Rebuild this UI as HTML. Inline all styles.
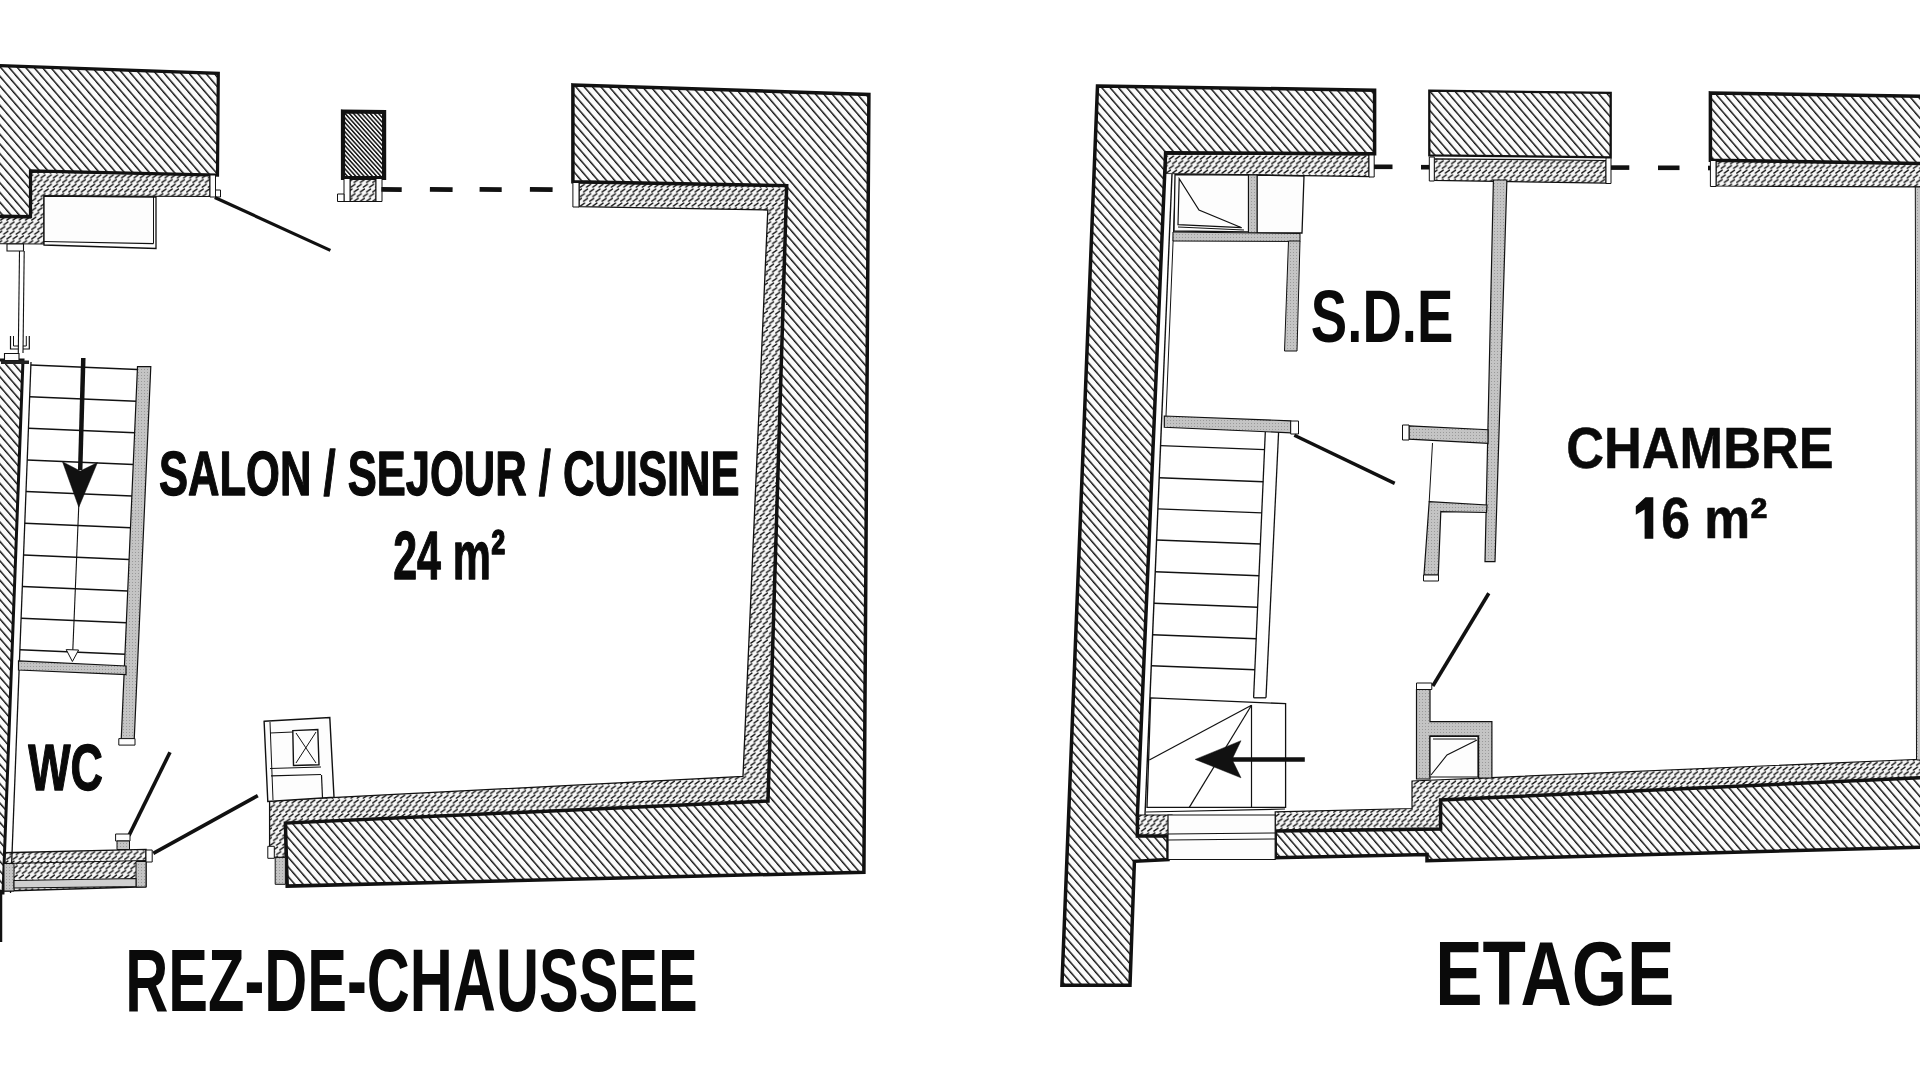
<!DOCTYPE html>
<html><head><meta charset="utf-8"><title>Plan</title>
<style>html,body{margin:0;padding:0;background:#fff;width:1920px;height:1080px;overflow:hidden}svg{display:block}text{font-family:"Liberation Sans",sans-serif;font-weight:bold}</style>
</head><body>
<svg width="1920" height="1080" viewBox="0 0 1920 1080">
<defs>
<pattern id="h" width="6.32" height="2400" y="-1200" patternUnits="userSpaceOnUse" patternTransform="rotate(-40.7)">
<rect x="0" y="0" width="6.32" height="2400" fill="#fbfbfb"/><rect x="0" y="0" width="1.45" height="2400" fill="#111"/></pattern>
<pattern id="h2" width="3.1" height="2400" y="-1200" patternUnits="userSpaceOnUse" patternTransform="rotate(-42)">
<rect x="0" y="0" width="3.1" height="2400" fill="#f4f4f4"/><rect x="0" y="0" width="1.45" height="2400" fill="#111"/></pattern>
<pattern id="p" width="6.2" height="9.4" patternUnits="userSpaceOnUse">
<rect width="6.2" height="9.4" fill="#f7f7f7"/><g stroke="#111" stroke-width="1.35" stroke-linecap="round"><line x1="0.7" y1="3.8" x2="4.8" y2="1.0"/><line x1="3.8" y1="8.5" x2="7.9" y2="5.7"/><line x1="-2.4" y1="8.5" x2="1.7" y2="5.7"/></g></pattern>
<pattern id="g" width="3" height="3" patternUnits="userSpaceOnUse">
<rect width="3" height="3" fill="#c4c4c4"/><rect x="0" y="0" width="1" height="1" fill="#9a9a9a"/></pattern>
</defs>
<rect width="1920" height="1080" fill="#fff"/>
<g font-family="Liberation Sans" font-weight="bold" fill="#0a0a0a">
<polygon points="30.5,172.0 210.0,175.0 210.0,196.5 44.0,195.8 44.0,244.0 -6.0,243.7 -6.0,217.5 30.5,218.0" fill="url(#p)" stroke="#111" stroke-width="1.2" stroke-linejoin="miter" />
<polygon points="350.0,179.0 376.0,179.0 376.0,201.5 350.0,201.5" fill="url(#p)" stroke="#111" stroke-width="1" stroke-linejoin="miter" />
<polygon points="579.0,182.5 786.7,186.0 768.0,801.0 285.4,823.1 285.4,857.4 269.6,857.4 269.6,800.9 743.0,776.4 767.8,210.0 579.0,206.7" fill="url(#p)" stroke="#111" stroke-width="1.3" stroke-linejoin="miter" />
<polygon points="3.0,852.8 146.0,849.4 146.0,886.7 5.0,891.0" fill="url(#p)" stroke="#111" stroke-width="1.4" stroke-linejoin="miter" />
<polygon points="1166.0,154.0 1369.0,155.0 1369.0,176.7 1166.0,173.5" fill="url(#p)" stroke="#111" stroke-width="1.2" stroke-linejoin="miter" />
<polygon points="1434.0,158.8 1606.0,160.5 1606.0,183.2 1434.0,180.3" fill="url(#p)" stroke="#111" stroke-width="1.2" stroke-linejoin="miter" />
<polygon points="1716.0,161.0 1926.0,164.0 1926.0,187.0 1716.0,186.0" fill="url(#p)" stroke="#111" stroke-width="1.2" stroke-linejoin="miter" />
<polygon points="1275.2,811.9 1412.0,808.5 1412.0,781.0 1926.0,759.0 1926.0,777.5 1440.6,799.9 1440.6,829.0 1275.2,831.1" fill="url(#p)" stroke="#111" stroke-width="1.2" stroke-linejoin="miter" />
<polygon points="1137.4,815.0 1172.0,815.0 1172.0,836.0 1137.4,836.0" fill="url(#p)" stroke="#111" stroke-width="1.2" stroke-linejoin="miter" />
<polygon points="-6.0,65.5 218.3,73.3 217.5,175.0 30.5,171.0 30.5,216.7 -6.0,216.0" fill="url(#h)" stroke="#111" stroke-width="3.2" stroke-linejoin="miter" />
<polygon points="210.0,175.0 215.5,175.0 215.5,197.0 210.0,197.0" fill="#fdfdfd" stroke="#111" stroke-width="1" stroke-linejoin="miter" />
<polygon points="215.5,190.0 220.5,190.0 220.5,197.0 215.5,197.0" fill="#fdfdfd" stroke="#111" stroke-width="1" stroke-linejoin="miter" />
<polygon points="44.0,196.0 156.0,197.0 156.0,248.5 44.0,245.0" fill="#fdfdfd" stroke="#111" stroke-width="1.3" stroke-linejoin="miter" />
<line x1="44" y1="241.5" x2="153.5" y2="243.6" stroke="#111" stroke-width="1.2" />
<line x1="153.5" y1="197" x2="153.5" y2="243.6" stroke="#111" stroke-width="1.0" />
<line x1="214.8" y1="197.5" x2="330.4" y2="250.4" stroke="#111" stroke-width="3.2" />
<polygon points="343.0,111.5 384.1,112.0 384.1,178.0 343.0,177.8" fill="url(#h2)" stroke="#111" stroke-width="4.2" stroke-linejoin="miter" />
<polygon points="344.0,178.5 350.0,178.5 350.0,201.5 344.0,201.5" fill="#fdfdfd" stroke="#111" stroke-width="1" stroke-linejoin="miter" />
<polygon points="376.0,178.5 382.0,178.5 382.0,201.5 376.0,201.5" fill="#fdfdfd" stroke="#111" stroke-width="1" stroke-linejoin="miter" />
<polygon points="337.5,194.0 344.0,194.0 344.0,201.5 337.5,201.5" fill="#fdfdfd" stroke="#111" stroke-width="1" stroke-linejoin="miter" />
<line x1="381.4" y1="189.3" x2="401.7" y2="189.6" stroke="#111" stroke-width="4.8" />
<line x1="429.9" y1="189.3" x2="452.6" y2="189.6" stroke="#111" stroke-width="4.8" />
<line x1="479.6" y1="189.3" x2="501.7" y2="189.6" stroke="#111" stroke-width="4.8" />
<line x1="529.9" y1="189.3" x2="552.6" y2="189.6" stroke="#111" stroke-width="4.8" />
<polygon points="572.9,84.9 868.9,94.4 863.9,872.2 287.2,886.1 285.4,823.1 768.0,801.0 786.7,185.6 572.9,181.8" fill="url(#h)" stroke="#111" stroke-width="3.5" stroke-linejoin="miter" />
<polygon points="572.9,182.5 579.0,182.5 579.0,207.0 572.9,207.0" fill="#fdfdfd" stroke="#111" stroke-width="1" stroke-linejoin="miter" />
<polygon points="264.1,721.3 329.8,717.6 334.0,797.2 267.8,801.5" fill="#fdfdfd" stroke="#111" stroke-width="1.4" stroke-linejoin="miter" />
<line x1="270" y1="722" x2="273" y2="800" stroke="#111" stroke-width="1.0" />
<line x1="270" y1="733" x2="292.8" y2="732" stroke="#111" stroke-width="1.0" />
<polygon points="292.8,730.6 317.8,729.5 319.0,764.8 293.5,765.5" fill="#fdfdfd" stroke="#111" stroke-width="1.4" stroke-linejoin="miter" />
<line x1="296" y1="733" x2="316" y2="763" stroke="#111" stroke-width="1.0" />
<line x1="316" y1="732" x2="296" y2="763" stroke="#111" stroke-width="1.0" />
<line x1="270" y1="768.5" x2="321" y2="767" stroke="#111" stroke-width="1.2" />
<line x1="271" y1="775.9" x2="321" y2="774.5" stroke="#111" stroke-width="1.2" />
<line x1="321.5" y1="775" x2="322.5" y2="798" stroke="#111" stroke-width="1.2" />
<polygon points="267.8,846.3 274.3,846.3 274.3,858.3 267.8,858.3" fill="#fdfdfd" stroke="#111" stroke-width="1" stroke-linejoin="miter" />
<polygon points="275.2,857.4 285.4,857.4 285.4,884.3 275.2,884.3" fill="url(#g)" stroke="#111" stroke-width="1" stroke-linejoin="miter" />
<polygon points="-6.0,360.0 23.0,360.0 3.0,893.0 -6.0,893.0" fill="url(#h)" stroke="#111" stroke-width="3" stroke-linejoin="miter" />
<line x1="31" y1="362" x2="10.5" y2="893" stroke="#111" stroke-width="1.3" />
<polygon points="4.5,353.5 19.0,353.5 19.0,360.5 4.5,360.5" fill="#fdfdfd" stroke="#111" stroke-width="1.1" stroke-linejoin="miter" />
<polygon points="7.0,244.0 23.5,244.0 23.5,251.0 7.0,251.0" fill="#fdfdfd" stroke="#111" stroke-width="1.1" stroke-linejoin="miter" />
<line x1="19.5" y1="251" x2="18.3" y2="353" stroke="#111" stroke-width="1.1" />
<line x1="24.2" y1="251" x2="23" y2="353" stroke="#111" stroke-width="1.1" />
<polyline points="10.5,336.0 10.5,349.0 18.3,349.0" fill="none" stroke="#111" stroke-width="1.2"/>
<polyline points="13.5,336.0 13.5,346.0 18.3,346.0" fill="none" stroke="#111" stroke-width="1.0"/>
<polyline points="29.3,336.0 29.3,349.0 23.0,349.0" fill="none" stroke="#111" stroke-width="1.2"/>
<polyline points="26.3,336.0 26.3,346.0 23.0,346.0" fill="none" stroke="#111" stroke-width="1.0"/>
<polygon points="1.0,360.5 29.0,360.5 29.0,364.0 1.0,364.0" fill="#222" stroke="#111" stroke-width="0" stroke-linejoin="miter" />
<line x1="30.884180790960453" y1="365.0" x2="137.58739946380697" y2="369.5" stroke="#111" stroke-width="1.5" />
<line x1="29.662288135593222" y1="396.65" x2="136.20430294906166" y2="401.15" stroke="#111" stroke-width="1.5" />
<line x1="28.440395480225988" y1="428.3" x2="134.82120643431637" y2="432.8" stroke="#111" stroke-width="1.5" />
<line x1="27.218502824858756" y1="459.95" x2="133.43810991957105" y2="464.45" stroke="#111" stroke-width="1.5" />
<line x1="25.996610169491525" y1="491.6" x2="132.05501340482573" y2="496.1" stroke="#111" stroke-width="1.5" />
<line x1="24.774717514124294" y1="523.25" x2="130.67191689008044" y2="527.75" stroke="#111" stroke-width="1.5" />
<line x1="23.552824858757063" y1="554.9" x2="129.28882037533512" y2="559.4" stroke="#111" stroke-width="1.5" />
<line x1="22.330932203389835" y1="586.55" x2="127.90572386058982" y2="591.05" stroke="#111" stroke-width="1.5" />
<line x1="21.109039548022597" y1="618.2" x2="126.5226273458445" y2="622.7" stroke="#111" stroke-width="1.5" />
<line x1="19.88714689265537" y1="649.8499999999999" x2="125.1395308310992" y2="654.3499999999999" stroke="#111" stroke-width="1.5" />
<polygon points="137.5,366.7 150.8,366.7 134.2,740.0 121.2,740.0" fill="url(#g)" stroke="#111" stroke-width="1.2" stroke-linejoin="miter" />
<polygon points="118.8,738.6 135.0,738.6 135.0,745.1 118.8,745.1" fill="#fdfdfd" stroke="#111" stroke-width="1" stroke-linejoin="miter" />
<polygon points="18.5,660.8 126.0,666.0 126.0,674.5 18.5,670.0" fill="url(#g)" stroke="#111" stroke-width="1.2" stroke-linejoin="miter" />
<line x1="83.3" y1="358" x2="80.2" y2="470" stroke="#111" stroke-width="4.5" />
<polygon points="62.5,461.7 80.2,471.0 97.5,462.5 78.8,507.2" fill="#111" stroke="#111" stroke-width="0.5" stroke-linejoin="miter" />
<line x1="78.8" y1="505" x2="72.4" y2="660" stroke="#111" stroke-width="1.1" />
<polygon points="66.2,649.6 78.6,650.0 72.4,661.5" fill="#fdfdfd" stroke="#111" stroke-width="1" stroke-linejoin="miter" />
<line x1="128.9" y1="835.6" x2="170" y2="752.2" stroke="#111" stroke-width="3.6" />
<polygon points="115.6,834.0 130.0,834.0 130.0,841.0 115.6,841.0" fill="#fdfdfd" stroke="#111" stroke-width="1" stroke-linejoin="miter" />
<polygon points="117.0,841.0 129.5,841.0 129.5,849.5 117.0,849.5" fill="url(#g)" stroke="#111" stroke-width="1" stroke-linejoin="miter" />
<line x1="4" y1="863.5" x2="146" y2="860.5" stroke="#111" stroke-width="1.2" />
<polygon points="4.0,863.5 14.0,863.5 14.0,891.0 4.0,891.0" fill="url(#g)" stroke="#111" stroke-width="1" stroke-linejoin="miter" />
<polygon points="136.0,861.5 146.0,861.5 146.0,887.0 136.0,887.0" fill="url(#g)" stroke="#111" stroke-width="1" stroke-linejoin="miter" />
<polygon points="14.0,880.5 136.0,878.5 136.0,886.5 14.0,888.0" fill="#d0d0d0" stroke="#111" stroke-width="1.1" stroke-linejoin="miter" />
<polygon points="146.0,850.0 152.2,850.0 152.2,862.0 146.0,862.0" fill="#fdfdfd" stroke="#111" stroke-width="1" stroke-linejoin="miter" />
<line x1="1" y1="890" x2="1" y2="942" stroke="#111" stroke-width="2.5" />
<line x1="153.3" y1="853.3" x2="257.8" y2="795.6" stroke="#111" stroke-width="3.6" />
<polygon points="1097.5,86.0 1374.6,90.2 1374.6,153.8 1165.6,152.7 1137.4,815.0 1137.4,836.0 1168.0,836.0 1168.0,859.5 1134.4,861.3 1130.0,985.2 1061.9,985.2" fill="url(#h)" stroke="#111" stroke-width="3.5" stroke-linejoin="miter" />
<polygon points="1369.0,155.0 1374.2,155.0 1374.2,177.0 1369.0,177.0" fill="#fdfdfd" stroke="#111" stroke-width="1" stroke-linejoin="miter" />
<line x1="1172" y1="174" x2="1145" y2="815" stroke="#111" stroke-width="1.4" />
<line x1="1175.8" y1="174" x2="1166" y2="416" stroke="#111" stroke-width="1.0" />
<line x1="1374" y1="166.8" x2="1392.5" y2="166.8" stroke="#111" stroke-width="4.6" />
<line x1="1421" y1="167.2" x2="1430" y2="167.2" stroke="#111" stroke-width="4.6" />
<line x1="1611" y1="167.6" x2="1629.3" y2="167.6" stroke="#111" stroke-width="4.6" />
<line x1="1658" y1="167.8" x2="1679.5" y2="167.8" stroke="#111" stroke-width="4.6" />
<line x1="1708" y1="168" x2="1712" y2="168" stroke="#111" stroke-width="4.6" />
<polygon points="1429.3,90.6 1610.7,92.9 1610.7,157.4 1429.3,155.4" fill="url(#h)" stroke="#111" stroke-width="2.3" stroke-linejoin="miter" />
<polygon points="1429.3,157.0 1434.3,157.0 1434.3,181.0 1429.3,181.0" fill="#fdfdfd" stroke="#111" stroke-width="1" stroke-linejoin="miter" />
<polygon points="1606.0,158.0 1611.0,158.0 1611.0,183.5 1606.0,183.5" fill="#fdfdfd" stroke="#111" stroke-width="1" stroke-linejoin="miter" />
<polygon points="1710.4,92.9 1926.0,96.4 1926.0,163.5 1710.4,160.3" fill="url(#h)" stroke="#111" stroke-width="3.5" stroke-linejoin="miter" />
<polygon points="1710.4,160.5 1716.0,160.5 1716.0,186.5 1710.4,186.5" fill="#fdfdfd" stroke="#111" stroke-width="1" stroke-linejoin="miter" />
<polygon points="1915.3,187.0 1926.0,187.0 1926.0,760.0 1916.5,760.0" fill="url(#g)" stroke="#111" stroke-width="1" stroke-linejoin="miter" />
<polygon points="1175.0,174.6 1248.5,175.0 1248.5,231.9 1174.0,231.0" fill="#fdfdfd" stroke="#111" stroke-width="1.3" stroke-linejoin="miter" />
<polygon points="1179.2,178.8 1178.0,224.6 1241.7,227.7 1199.0,210.0" fill="none" stroke="#111" stroke-width="1.2" stroke-linejoin="miter" />
<line x1="1178" y1="227" x2="1244" y2="230" stroke="#111" stroke-width="1.0" />
<polygon points="1257.0,175.0 1304.0,176.0 1302.0,233.0 1257.0,233.0" fill="#fdfdfd" stroke="#111" stroke-width="1.3" stroke-linejoin="miter" />
<polygon points="1248.5,175.0 1257.0,175.0 1257.0,233.0 1248.5,233.0" fill="url(#g)" stroke="#111" stroke-width="1" stroke-linejoin="miter" />
<polygon points="1173.0,232.0 1300.0,233.5 1300.0,241.5 1173.0,241.0" fill="url(#g)" stroke="#111" stroke-width="1" stroke-linejoin="miter" />
<polygon points="1288.5,241.0 1300.0,241.0 1297.0,351.0 1284.5,351.0" fill="url(#g)" stroke="#111" stroke-width="1" stroke-linejoin="miter" />
<polygon points="1164.3,416.0 1290.7,420.8 1290.7,432.8 1164.3,427.3" fill="url(#g)" stroke="#111" stroke-width="1.2" stroke-linejoin="miter" />
<polygon points="1290.7,421.0 1298.5,421.0 1298.5,434.0 1290.7,434.0" fill="#fdfdfd" stroke="#111" stroke-width="1" stroke-linejoin="miter" />
<line x1="1160.5597503900156" y1="445.6" x2="1264.7018045112782" y2="449.6" stroke="#111" stroke-width="1.4" />
<line x1="1159.2034321372855" y1="477.8" x2="1263.2854887218045" y2="481.8" stroke="#111" stroke-width="1.4" />
<line x1="1157.8934477379096" y1="508.9" x2="1261.9175563909773" y2="512.9" stroke="#111" stroke-width="1.4" />
<line x1="1156.5834633385336" y1="540" x2="1260.5496240601503" y2="544" stroke="#111" stroke-width="1.4" />
<line x1="1155.2482059282372" y1="571.7" x2="1259.1553007518796" y2="575.7" stroke="#111" stroke-width="1.4" />
<line x1="1153.9171606864275" y1="603.3" x2="1257.7653759398495" y2="607.3" stroke="#111" stroke-width="1.4" />
<line x1="1152.5945397815913" y1="634.7" x2="1256.3842481203008" y2="638.7" stroke="#111" stroke-width="1.4" />
<line x1="1151.2845553822153" y1="665.8" x2="1255.0163157894735" y2="669.8" stroke="#111" stroke-width="1.4" />
<line x1="1278.6" y1="432" x2="1266" y2="697.8" stroke="#111" stroke-width="1.3" />
<line x1="1265.3" y1="432" x2="1253.6" y2="697.8" stroke="#111" stroke-width="1.3" />
<line x1="1253.6" y1="697.8" x2="1266" y2="697.8" stroke="#111" stroke-width="1.3" />
<line x1="1294.3" y1="435.3" x2="1394.7" y2="483.4" stroke="#111" stroke-width="3.4" />
<polygon points="1150.7,697.8 1285.6,703.7 1285.6,807.4 1147.0,807.4" fill="none" stroke="#111" stroke-width="1.3" stroke-linejoin="miter" />
<line x1="1251.5" y1="705.2" x2="1149.3" y2="760" stroke="#111" stroke-width="1.2" />
<line x1="1251.5" y1="705.2" x2="1189.3" y2="807.4" stroke="#111" stroke-width="1.2" />
<line x1="1251.5" y1="705.2" x2="1251.5" y2="807.4" stroke="#111" stroke-width="1.2" />
<line x1="1146" y1="812" x2="1285" y2="809" stroke="#111" stroke-width="1.2" />
<line x1="1304.8" y1="759.4" x2="1232" y2="759.4" stroke="#111" stroke-width="4.5" />
<polygon points="1195.2,759.4 1241.0,740.7 1232.0,759.4 1241.0,777.8" fill="#111" stroke="#111" stroke-width="0.5" stroke-linejoin="miter" />
<polygon points="1493.4,180.0 1506.9,180.0 1495.0,561.7 1485.0,561.7" fill="url(#g)" stroke="#111" stroke-width="1.2" stroke-linejoin="miter" />
<polygon points="1409.0,425.8 1488.0,429.7 1488.0,443.3 1409.0,439.2" fill="url(#g)" stroke="#111" stroke-width="1.2" stroke-linejoin="miter" />
<polygon points="1402.5,425.0 1409.0,425.0 1409.0,440.0 1402.5,440.0" fill="#fdfdfd" stroke="#111" stroke-width="1" stroke-linejoin="miter" />
<line x1="1432.5" y1="443" x2="1429.2" y2="501.7" stroke="#111" stroke-width="1.0" />
<polygon points="1429.2,501.7 1487.0,505.0 1486.5,512.5 1440.8,511.7 1438.3,575.0 1424.0,575.0" fill="url(#g)" stroke="#111" stroke-width="1.2" stroke-linejoin="miter" />
<polygon points="1423.5,575.0 1438.5,575.0 1438.5,581.0 1423.5,581.0" fill="#fdfdfd" stroke="#111" stroke-width="1" stroke-linejoin="miter" />
<line x1="1432.8" y1="686" x2="1488.8" y2="593.2" stroke="#111" stroke-width="3.6" />
<polygon points="1416.5,683.0 1431.8,683.0 1431.8,689.5 1416.5,689.5" fill="#fdfdfd" stroke="#111" stroke-width="1" stroke-linejoin="miter" />
<polygon points="1416.5,689.5 1430.0,689.5 1430.0,721.6 1491.9,721.6 1491.9,778.0 1478.6,778.0 1478.6,735.8 1430.0,735.8 1430.0,779.0 1416.5,779.0" fill="url(#g)" stroke="#111" stroke-width="1.2" stroke-linejoin="miter" />
<polygon points="1430.0,736.5 1478.0,736.5 1478.0,777.0 1430.0,777.0" fill="#fdfdfd" stroke="#111" stroke-width="1.2" stroke-linejoin="miter" />
<polyline points="1431.0,775.0 1447.0,755.0 1477.0,740.0" fill="none" stroke="#111" stroke-width="1.1"/>
<line x1="1433" y1="739" x2="1476" y2="739" stroke="#111" stroke-width="1.0" />
<polygon points="1275.2,831.1 1440.6,829.0 1440.6,799.9 1926.0,777.5 1926.0,847.0 1427.0,860.8 1427.0,854.5 1275.2,857.8" fill="url(#h)" stroke="#111" stroke-width="3.5" stroke-linejoin="miter" />
<polygon points="1168.0,815.0 1275.2,815.0 1275.2,859.5 1168.0,859.5" fill="#fdfdfd" stroke="#111" stroke-width="1.2" stroke-linejoin="miter" />
<line x1="1168" y1="834" x2="1275.2" y2="833" stroke="#111" stroke-width="1.1" />
<line x1="1168" y1="840" x2="1275.2" y2="839" stroke="#111" stroke-width="1.1" />
<text transform="translate(158.99,494.98) scale(0.6929,1)" font-size="62.83" stroke="#0a0a0a" stroke-width="1.3" stroke-linejoin="round">SALON / SEJOUR / CUISINE</text>
<text transform="translate(393.18,578.62) scale(0.6329,1)" font-size="67.83" stroke="#0a0a0a" stroke-width="1.3" stroke-linejoin="round">24 m<tspan dy="-1.2">²</tspan></text>
<text transform="translate(28.19,789.93) scale(0.6864,1)" font-size="65.25" stroke="#0a0a0a" stroke-width="1.3" stroke-linejoin="round">WC</text>
<text transform="translate(125.25,1011.10) scale(0.6655,1)" font-size="89.53">REZ-DE-CHAUSSEE</text>
<text transform="translate(1310.87,342.07) scale(0.7425,1)" font-size="73.47">S.D.E</text>
<text transform="translate(1566.28,468.44) scale(0.9172,1)" font-size="57.03" stroke="#0a0a0a" stroke-width="0.5" stroke-linejoin="round">CHAMBRE</text>
<text transform="translate(1632.53,538.05) scale(0.9139,1)" font-size="56.47" stroke="#0a0a0a" stroke-width="0.6" stroke-linejoin="round">16 m<tspan dy="-1.2">²</tspan></text>
<text transform="translate(1435.16,1005.08) scale(0.7743,1)" font-size="91.69">ETAGE</text>
<rect x="1632" y="494" width="29" height="48" fill="#fff"/>
<polygon points="1645.5,497.3 1653.3,497.3 1653.3,538.8 1644.6,538.8 1644.6,509.5 1635.8,514.8 1635.8,506.2" fill="#0a0a0a"/>
</g>
</svg>
</body></html>
